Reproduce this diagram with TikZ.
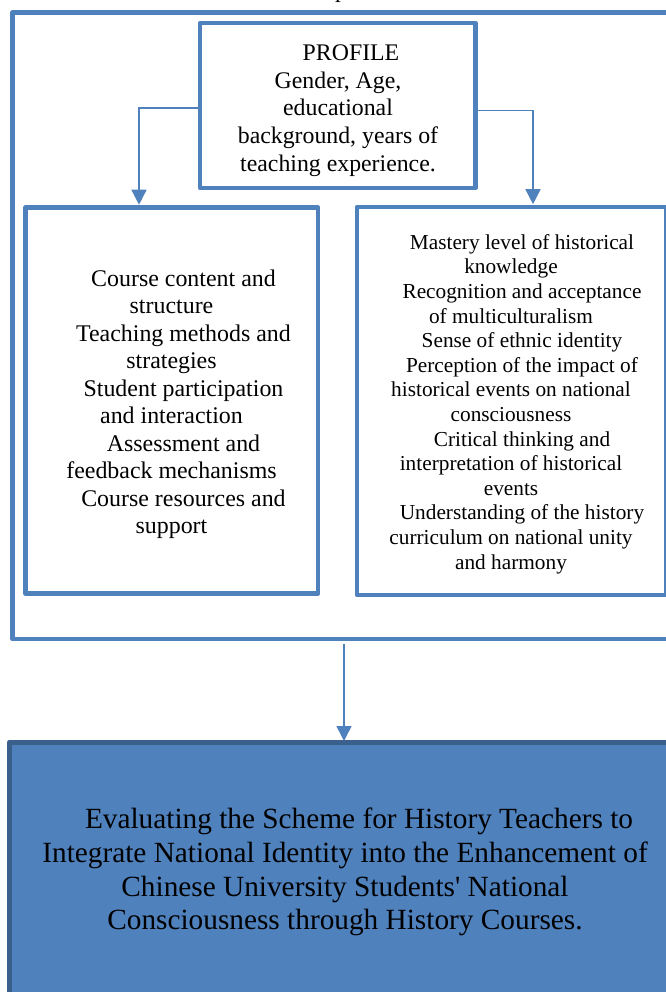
\documentclass[tikz,border=0pt]{standalone}
\usepackage{fontspec}
\setmainfont{Liberation Serif}
\usetikzlibrary{arrows.meta}
\definecolor{ob}{RGB}{79,129,189}
\definecolor{obdark}{RGB}{58,95,139}
\tikzset{
  boxframe/.style={draw=ob, line width=4.6pt, line join=round, rectangle, inner sep=0pt},
  conn/.style={draw=ob, line width=1.6pt, -{Triangle[length=15pt,width=15pt]}},
  txt/.style={align=center, inner sep=0pt, text=black}
}
\begin{document}
\begin{tikzpicture}[x=1pt,y=-1pt]
\useasboundingbox (0,0) rectangle (665,992);
% clipped fragment of text above the frame
\node[anchor=base west, inner sep=0pt, font=\fontsize{23.8}{27.6}\selectfont] (frag) at (335,-2.6) {p};
% outer frame
\node[boxframe, minimum width=690pt, minimum height=626.5pt] (outer) at (357.5,325.75) {};
% profile box
\node[boxframe, fill=white, minimum width=275.5pt, minimum height=165pt] (profile) at (337.75,105.5) {};
\node[txt, font=\fontsize{23.8}{27.6}\selectfont] (profiletxt) at (338,110.5)
  {\hspace*{26pt}PROFILE\\Gender, Age,\\educational\\background, years of\\teaching experience.};
% left box
\node[boxframe, fill=white, minimum width=292.5pt, minimum height=386pt] (left) at (171.75,400.5) {};
\node[txt, font=\fontsize{23.9}{27.5}\selectfont] (lefttxt) at (171.5,404)
  {\hspace*{24pt}Course content and\\structure\\\hspace*{24pt}Teaching methods and\\strategies\\\hspace*{24pt}Student participation\\and interaction\\\hspace*{24pt}Assessment and\\feedback mechanisms\\\hspace*{24pt}Course resources and\\support};
% right box
\node[boxframe, fill=white, minimum width=309pt, minimum height=388pt] (right) at (511.5,401) {};
\node[txt, font=\fontsize{21.3}{24.6}\selectfont] (righttxt) at (511,404)
  {\hspace*{22pt}Mastery level of historical\\knowledge\\\hspace*{22pt}Recognition and acceptance\\of multiculturalism\\\hspace*{22pt}Sense of ethnic identity\\\hspace*{22pt}Perception of the impact of\\historical events on national\\consciousness\\\hspace*{22pt}Critical thinking and\\interpretation of historical\\events\\\hspace*{22pt}Understanding of the history\\curriculum on national unity\\and harmony};
% bottom box
\node[draw=obdark, fill=ob, line width=5pt, line join=round, inner sep=0pt, minimum width=690pt, minimum height=280pt] (bottom) at (354.5,882) {};
\node[txt, font=\fontsize{29.3}{33.7}\selectfont] (bottomtxt) at (345,872)
  {\hspace*{28pt}Evaluating the Scheme for History Teachers to\\Integrate National Identity into the Enhancement of\\Chinese University Students\textquotesingle{} National\\Consciousness through History Courses.};
% connectors
\coordinate (lbend) at (139,108);
\coordinate (rbend) at (533,110.5);
\draw[conn] (profile.west |- lbend) -- (lbend) -- ([yshift=0.5pt]lbend |- left.north);
\draw[conn] (profile.east |- rbend) -- (rbend) -- ([yshift=0.5pt]rbend |- right.north);
\draw[conn] ([xshift=-13.5pt,yshift=-2.3pt]outer.south) -- ([xshift=-10.5pt,yshift=-1.5pt]bottom.north);
\end{tikzpicture}
\end{document}
